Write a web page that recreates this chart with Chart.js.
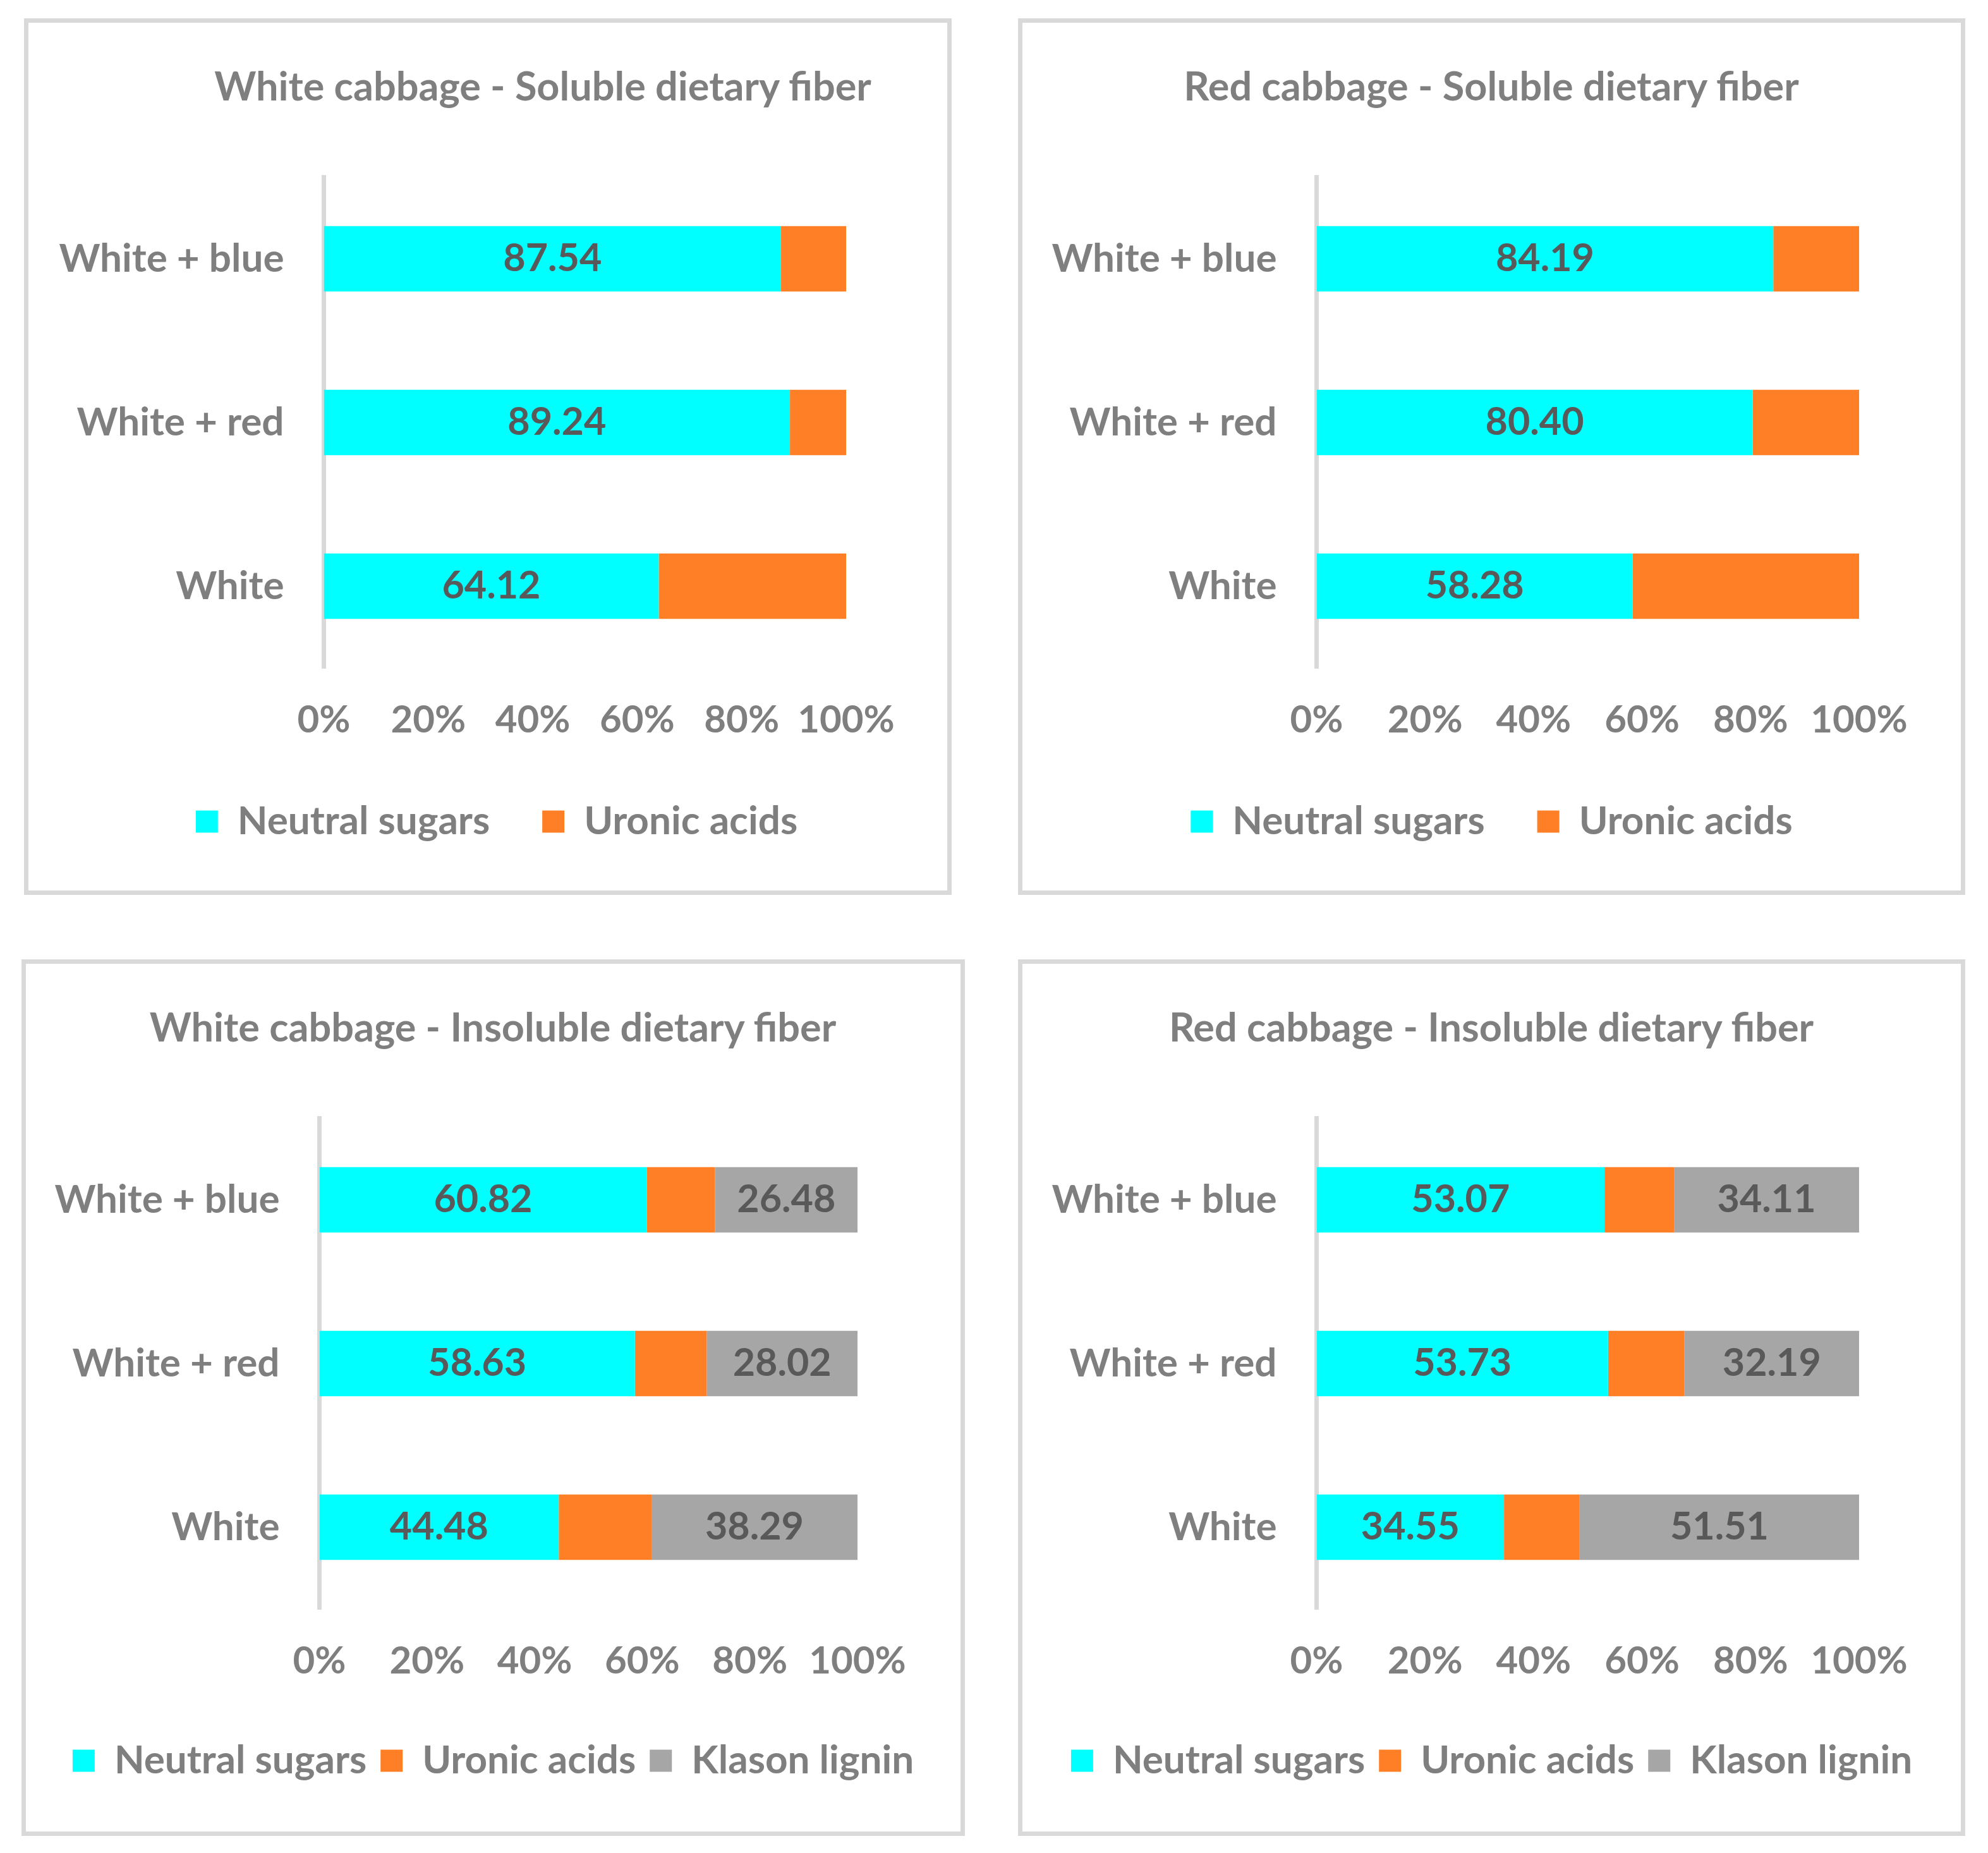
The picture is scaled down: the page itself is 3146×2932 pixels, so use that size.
<!DOCTYPE html>
<html>
<head>
<meta charset="utf-8">
<script src="https://cdn.jsdelivr.net/npm/chart.js"></script>
<style>
    body {
        margin: 0;
        background: #ffffff;
        width: 3146px;
        height: 2932px;
        position: relative;
    }
    .panel {
        position: absolute;
        box-sizing: border-box;
        border: 7px solid #d9d9d9;
        height: 1387px;
    }
    .panel canvas {
        position: absolute;
        left: 0;
        top: 0;
    }
    .title {
        position: absolute;
        top: 61px;
        transform: translateX(-50%);
        white-space: nowrap;
        font: bold 63px/76px Lato, sans-serif;
        color: #7f7f7f;
        z-index: 1;
    }
</style>
</head>
<body>
<div class="panel" style="left: 38px; top: 29px; width: 1468px;">
    <canvas id="whiteSoluble" width="1482" height="1373"></canvas>
    <div class="title" style="left: 814px;">White cabbage - Soluble dietary fiber</div>
</div>
<div class="panel" style="left: 1611px; top: 29px; width: 1499px;">
    <canvas id="redSoluble" width="1485" height="1373"></canvas>
    <div class="title" style="left: 742px;">Red cabbage - Soluble dietary fiber</div>
</div>
<div class="panel" style="left: 34px; top: 1518px; width: 1493px;">
    <canvas id="whiteInsoluble" width="1479" height="1373"></canvas>
    <div class="title" style="left: 739px;">White cabbage - Insoluble dietary fiber</div>
</div>
<div class="panel" style="left: 1611px; top: 1518px; width: 1499px;">
    <canvas id="redInsoluble" width="1485" height="1373"></canvas>
    <div class="title" style="left: 742px;">Red cabbage - Insoluble dietary fiber</div>
</div>
<script>
// categories bottom -> top, as in the spreadsheet
const categories = ["White", "White + red", "White + blue"];

const whiteSolubleNeutral = [64.12, 89.24, 87.54];
const whiteSolubleUronic = [35.88, 10.76, 12.46];

const redSolubleNeutral = [58.28, 80.40, 84.19];
const redSolubleUronic = [41.72, 19.60, 15.81];

const whiteInsolubleNeutral = [44.48, 58.63, 60.82];
const whiteInsolubleUronic = [17.23, 13.35, 12.70];
const whiteInsolubleLignin = [38.29, 28.02, 26.48];

const redInsolubleNeutral = [34.55, 53.73, 53.07];
const redInsolubleUronic = [13.94, 14.08, 12.82];
const redInsolubleLignin = [51.51, 32.19, 34.11];

const xTickStep = 20;

const CYAN = "#00ffff";
const ORANGE = "#ff7f27";
const GREY = "#a6a6a6";
const TEXT = "#7f7f7f";
const LABEL = "#595959";
const FONT = "Lato";

// value labels in the middle of the neutral sugar / lignin segments
const valueLabels = {
    id: "valueLabels",
    afterDatasetsDraw(chart) {
        const ctx = chart.ctx;
        ctx.save();
        ctx.font = `bold 61px ${FONT}`;
        ctx.fillStyle = LABEL;
        ctx.textAlign = "center";
        ctx.textBaseline = "middle";
        chart.data.datasets.forEach((ds, i) => {
            if (!ds.showValues) {
                return;
            }
            chart.getDatasetMeta(i).data.forEach((bar, j) => {
                const { x, y, base } = bar.getProps(["x", "y", "base"], true);
                ctx.fillText(ds.data[j].toFixed(2), (x + base) / 2, y);
            });
        });
        ctx.restore();
    },
};

function series(label, data, color, showValues) {
    return {
        label: label,
        data: data,
        backgroundColor: color,
        borderWidth: 0,
        barPercentage: 0.4,
        categoryPercentage: 1,
        showValues: showValues,
    };
}

function makeChart(id, datasets, lay) {
    return new Chart(document.getElementById(id), {
        type: "bar",
        data: {
            labels: categories,
            datasets: datasets,
        },
        plugins: [valueLabels],
        options: {
            indexAxis: "y",
            responsive: false,
            animation: false,
            layout: {
                padding: { left: 0, right: 0, top: 244, bottom: lay.bottom },
            },
            scales: {
                x: {
                    stacked: true,
                    min: 0,
                    max: 100,
                    grid: { display: false, drawTicks: false },
                    border: { display: false },
                    ticks: {
                        stepSize: xTickStep,
                        padding: 47,
                        color: TEXT,
                        font: { family: FONT, size: 60, weight: "bold" },
                        callback: (v) => `${v}%`,
                    },
                    afterFit: (scale) => {
                        scale.height = lay.xHeight;
                    },
                },
                y: {
                    stacked: true,
                    reverse: true,
                    z: 1,
                    grid: { display: false, drawTicks: false },
                    border: { display: true, color: "#d9d9d9", width: 7 },
                    ticks: {
                        padding: 63,
                        color: TEXT,
                        font: { family: FONT, size: 62, weight: "bold" },
                    },
                    afterFit: (scale) => {
                        scale.width = lay.yWidth;
                    },
                },
                // empty axis on the right, only keeps the space after 100%
                yRight: {
                    type: "category",
                    axis: "y",
                    position: "right",
                    grid: { display: false, drawTicks: false },
                    border: { display: false },
                    ticks: { display: false },
                    afterFit: (scale) => {
                        scale.width = lay.rightWidth;
                    },
                },
            },
            plugins: {
                title: { display: false },
                legend: {
                    position: "bottom",
                    labels: {
                        color: TEXT,
                        font: { family: FONT, size: 62, weight: "bold" },
                        boxWidth: 35,
                        boxHeight: 35,
                        padding: lay.legendPad,
                    },
                },
                tooltip: { enabled: false },
            },
        },
    });
}

function main() {
    makeChart("whiteSoluble", [
        series("Neutral sugars", whiteSolubleNeutral, CYAN, true),
        series("Uronic acids", whiteSolubleUronic, ORANGE, false),
    ], {
        yWidth: 467.5, rightWidth: 188,
        xHeight: 129, bottom: 68, legendPad: 83,
    });

    makeChart("redSoluble", [
        series("Neutral sugars", redSolubleNeutral, CYAN, true),
        series("Uronic acids", redSolubleUronic, ORANGE, false),
    ], {
        yWidth: 465.5, rightWidth: 161,
        xHeight: 129, bottom: 68, legendPad: 83,
    });

    makeChart("whiteInsoluble", [
        series("Neutral sugars", whiteInsolubleNeutral, CYAN, true),
        series("Uronic acids", whiteInsolubleUronic, ORANGE, false),
        series("Klason lignin", whiteInsolubleLignin, GREY, true),
    ], {
        yWidth: 464.5, rightWidth: 163,
        xHeight: 187, bottom: 71, legendPad: 22,
    });

    makeChart("redInsoluble", [
        series("Neutral sugars", redInsolubleNeutral, CYAN, true),
        series("Uronic acids", redInsolubleUronic, ORANGE, false),
        series("Klason lignin", redInsolubleLignin, GREY, true),
    ], {
        yWidth: 465.5, rightWidth: 161,
        xHeight: 187, bottom: 71, legendPad: 22,
    });
}

main();
</script>
</body>
</html>
